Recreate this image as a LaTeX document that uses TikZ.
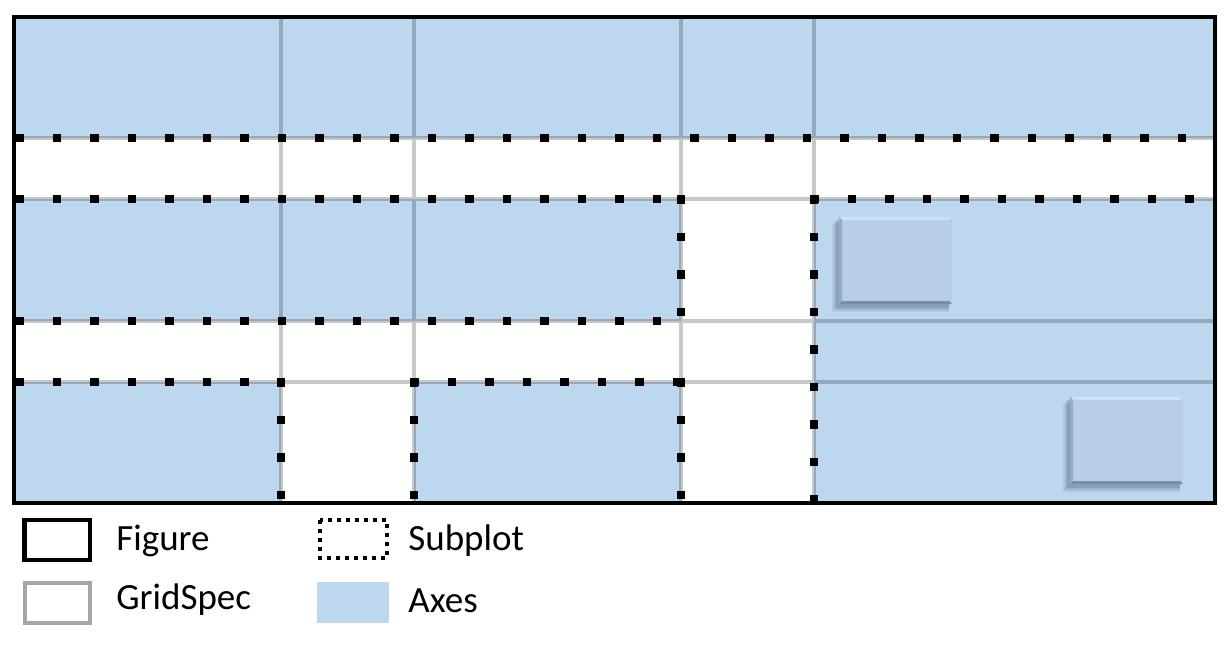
\documentclass[tikz,border=0pt]{standalone}
\usepackage{fontspec}
\setmainfont{Carlito}
\definecolor{axblue}{RGB}{189,215,238}
\definecolor{gridgray}{RGB}{200,200,200}
\definecolor{griddark}{RGB}{148,168,190}
\definecolor{insetblue}{RGB}{183,206,230}
\definecolor{insettop}{RGB}{205,226,246}
\definecolor{insetleft}{RGB}{150,172,196}
\definecolor{insetbottom}{RGB}{122,142,163}
\definecolor{shadowc}{RGB}{95,115,138}
\definecolor{legendgray}{RGB}{166,166,166}
\begin{document}
\begin{tikzpicture}[x=0.5pt,y=-0.5pt,
  figline/.style={draw=black,line width=2.3pt},
  gridline/.style={draw=gridgray,line width=1.6pt},
  griddarkline/.style={draw=griddark,line width=1.6pt},
  subdots/.style={draw=black,line width=4.4pt,dash pattern=on 4.4pt off 14.35pt},
  axesfill/.style={fill=axblue},
  lbl/.style={anchor=base west,inner sep=0pt,font=\fontsize{18.5}{22}\selectfont}]
\useasboundingbox (0,0) rectangle (1229,647);
\fill[white] (0,0) rectangle (1229,647);

% axes (subplot areas)
\fill[axesfill] (14,17) rectangle (1215,138);
\fill[axesfill] (14,199) rectangle (681,321);
\fill[axesfill] (814,199) rectangle (1215,503);
\fill[axesfill] (14,382) rectangle (281,503);
\fill[axesfill] (414,382) rectangle (681,503);

% gridspec lines
\foreach \gx in {281,414,681,814} \draw[gridline] (\gx,17) -- (\gx,503);
\foreach \gy in {138,199,321,382} \draw[gridline] (14,\gy) -- (1215,\gy);
\begin{scope}
  \clip (14,17) rectangle (1215,138)
        (14,199) rectangle (681,321)
        (814,199) rectangle (1215,503)
        (14,382) rectangle (281,503)
        (414,382) rectangle (681,503);
  \foreach \gx in {281,414,681,814} \draw[griddarkline] (\gx,17) -- (\gx,503);
  \foreach \gy in {138,199,321,382} \draw[griddarkline] (14,\gy) -- (1215,\gy);
\end{scope}

% inset axes
\foreach \ix/\iy in {839/217,1070/397}{
  \begin{scope}[shift={(\ix,\iy)}]
    \fill[shadowc,opacity=0.15] (-7,7) rectangle (110,95);
    \fill[shadowc,opacity=0.22] (-5,5) rectangle (110,93);
    \fill[shadowc,opacity=0.32] (-3,3) rectangle (110,91);
    \fill[insetblue] (0,0) rectangle (113,87);
    \fill[insettop] (0,0) -- (113,0) -- (110,3) -- (3,3) -- cycle;
    \fill[insetleft] (0,0) -- (3,3) -- (3,84) -- (0,87) -- cycle;
    \fill[insetbottom] (0,87) -- (3,84) -- (110,84) -- (113,87) -- cycle;
  \end{scope}
}

% subplot boundaries
\draw[subdots] (15,138) -- (1215,138);
\draw[subdots] (15,199) -- (681,199);
\draw[subdots] (681,195) -- (681,321);
\draw[subdots] (15,321) -- (681,321);
\draw[subdots] (810,199) -- (1215,199);
\draw[subdots] (814,195) -- (814,503);
\draw[subdots] (15,382) -- (281,382);
\draw[subdots] (281,378) -- (281,503);
\draw[subdots] (410,382) -- (681,382);
\draw[subdots] (414,378) -- (414,503);
\draw[subdots] (681,378) -- (681,503);

% figure border
\draw[figline] (14,17) rectangle (1215,503);

% legend
\draw[draw=black,line width=2.35pt] (24.5,520) rectangle (90,560);
\node[lbl] (lfig) at (116,550) {Figure};
\draw[draw=legendgray,line width=2pt] (24.5,583) rectangle (90,623);
\node[lbl] (lgrid) at (116,609) {GridSpec};
\draw[draw=black,line width=2pt,dash pattern=on 2pt off 2.5pt] (319.5,520) rectangle (386.5,558);
\node[lbl] (lsub) at (408,550) {Subplot};
\fill[axblue] (317,582) rectangle (389,622.5);
\node[lbl] (lax) at (408,612) {Axes};
\end{tikzpicture}
\end{document}
